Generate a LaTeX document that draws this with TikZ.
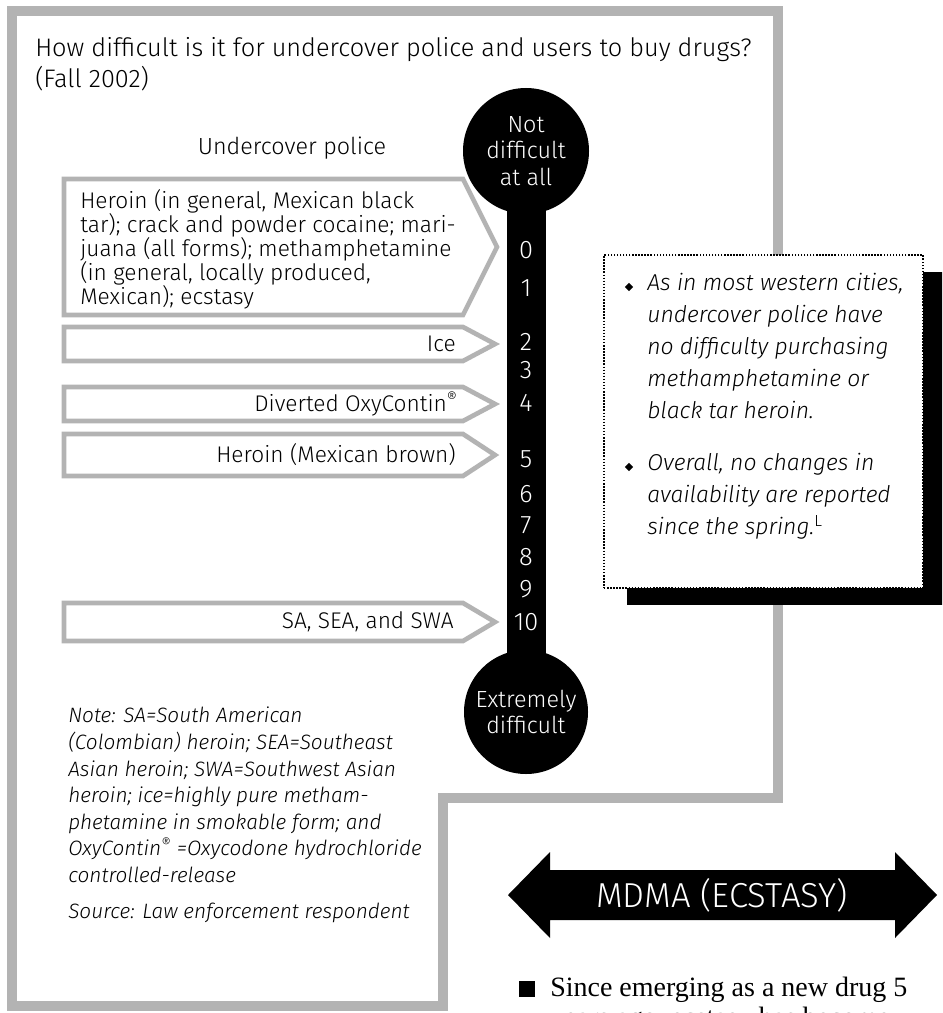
\documentclass[tikz,border=0pt]{standalone}
\usepackage{fontspec}
\setmainfont{Fira Sans}[UprightFont=* Light, ItalicFont=* Light Italic]
\newfontfamily\bodyserif{Liberation Serif}
\usetikzlibrary{shapes.geometric}
\definecolor{framegray}{HTML}{B3B3B3}
\newcommand{\fsz}[2]{\fontsize{#1}{#2}\selectfont}
\tikzset{
  frame/.style={draw=framegray, line width=7.5pt, line join=miter},
  chev/.style={draw=framegray, line width=3.5pt, fill=white, line join=miter},
  txt/.style={inner sep=0pt, align=left},
  boxtxt/.style={inner sep=0pt, align=left, font=\fsz{17pt}{18pt}},
  labtxt/.style={inner sep=0pt, anchor=east, font=\fsz{17pt}{18pt}},
  whitetxt/.style={inner sep=0pt, text=white, align=center},
  numtxt/.style={inner sep=0pt, text=white, font=\fsz{19pt}{19pt}},
  bigdot/.style={circle, fill=black, inner sep=0pt, text=white, align=center},
  dotbox/.style={draw=black, fill=white, line width=1.1pt, dash pattern=on 1.1pt off 1.2pt, inner sep=0pt},
  shadowbox/.style={fill=black, inner sep=0pt},
  bul/.style={diamond, fill=black, inner sep=0pt, minimum size=6.5pt},
  sidetxt/.style={inner sep=0pt, align=left, anchor=north west, font=\itshape\fsz{17.2pt}{24pt}},
  notetxt/.style={inner sep=0pt, align=left, anchor=north west, font=\itshape\fsz{15.6pt}{19.9pt}}
}
\begin{document}
\begin{tikzpicture}[x=0.75pt,y=-0.75pt]
\begin{scope}
\clip (0,0) rectangle (942,1013);
\fill[white] (0,0) rectangle (942,1013);
% outer gray frame
\draw[frame] (12,11) -- (778,11) -- (778,798) -- (443,798) -- (443,1006) -- (12,1006) -- cycle;

% title
\node[txt, anchor=north west, font=\fsz{19pt}{23pt}] (title) at (35,37)
  {How difficult is it for undercover police and users to buy drugs?\\(Fall 2002)};
\node[inner sep=0pt, font=\fsz{17.5pt}{18pt}] (uc) at (292,148) {Undercover police};

% chevron boxes
\draw[chev] (64,179) -- (463,179) -- (497,247) -- (463,315) -- (64,315) -- cycle;
\node[boxtxt, anchor=north west] (t0) at (80,189)
  {Heroin (in general, Mexican black\\tar); crack and powder cocaine; mari-\\juana (all forms); methamphetamine\\(in general, locally produced,\\Mexican); ecstasy};

\draw[chev] (64,327) -- (463,327) -- (495,344) -- (463,361) -- (64,361) -- cycle;
\node[labtxt] (t2) at (456,344) {Ice};

\draw[chev] (64,387) -- (463,387) -- (495,404) -- (463,421) -- (64,421) -- cycle;
\node[labtxt] (t4) at (458,404) {Diverted OxyContin\textsuperscript{®}};

\draw[chev] (64,434) -- (463,434) -- (495,455) -- (463,476) -- (64,476) -- cycle;
\node[labtxt] (t5) at (456,455) {Heroin (Mexican brown)};

\draw[chev] (64,603) -- (463,603) -- (495,622) -- (463,641) -- (64,641) -- cycle;
\node[labtxt] (t10) at (454,622) {SA, SEA, and SWA};

% scale
\fill[black] (507,195) rectangle (546,665);
\node[bigdot, minimum size=94.5pt, font=\fsz{17.5pt}{20pt}] (topc) at (526,151) {Not\\difficult\\at all};
\node[bigdot, minimum size=93pt, font=\fsz{17.5pt}{20pt}] (botc) at (526,712) {Extremely\\difficult};
\foreach \v/\yy in {0/250,1/288,2/342,3/370,4/403,5/459,6/494,7/525,8/557,9/589,10/622}
  \node[numtxt] (n\v) at (526,\yy) {\v};

% side box
\node[shadowbox, minimum width=238.5pt, minimum height=249.75pt] (shadow) at (786,438.5) {};
\node[dotbox, minimum width=239.25pt, minimum height=249.75pt] (side) at (763.5,421.5) {};
\node[bul] (d1) at (629,287) {};
\node[sidetxt] (s1) at (647,273)
  {As in most western cities,\\undercover police have\\no difficulty purchasing\\methamphetamine or\\black tar heroin.};
\node[bul] (d2) at (629,467) {};
\node[sidetxt] (s2) at (647,453)
  {Overall, no changes in\\availability are reported\\since the spring.\textsuperscript{\upshape L}};

% note
\node[notetxt] (note) at (68,707)
  {Note: SA=South American\\(Colombian) heroin; SEA=Southeast\\Asian heroin; SWA=Southwest Asian\\heroin; ice=highly pure metham-\\phetamine in smokable form; and\\OxyContin\textsuperscript{®} =Oxycodone hydrochloride\\controlled-release};
\node[notetxt] (src) at (68,903) {Source: Law enforcement respondent};

% MDMA arrow
\fill[black] (508,895) -- (550,852) -- (550,870) -- (895,870) -- (895,852) -- (937,895)
  -- (895,938) -- (895,920) -- (550,920) -- (550,938) -- cycle;
\node[whitetxt, font=\fsz{26pt}{26pt}] (mdma) at (722,895) {MDMA (ECSTASY)};

% bottom text
\fill[black] (519,981) rectangle (535,997);
\node[inner sep=0pt, anchor=base west, font=\bodyserif\fsz{21pt}{23pt}] (since) at (550,996) {Since emerging as a new drug 5};
\node[inner sep=0pt, anchor=base west, font=\bodyserif\fsz{21pt}{23pt}] (years) at (550,1026) {years ago, ecstasy has become};
\end{scope}
\pgfresetboundingbox
\path[use as bounding box] (0,0) rectangle (942,1013);
\end{tikzpicture}
\end{document}
